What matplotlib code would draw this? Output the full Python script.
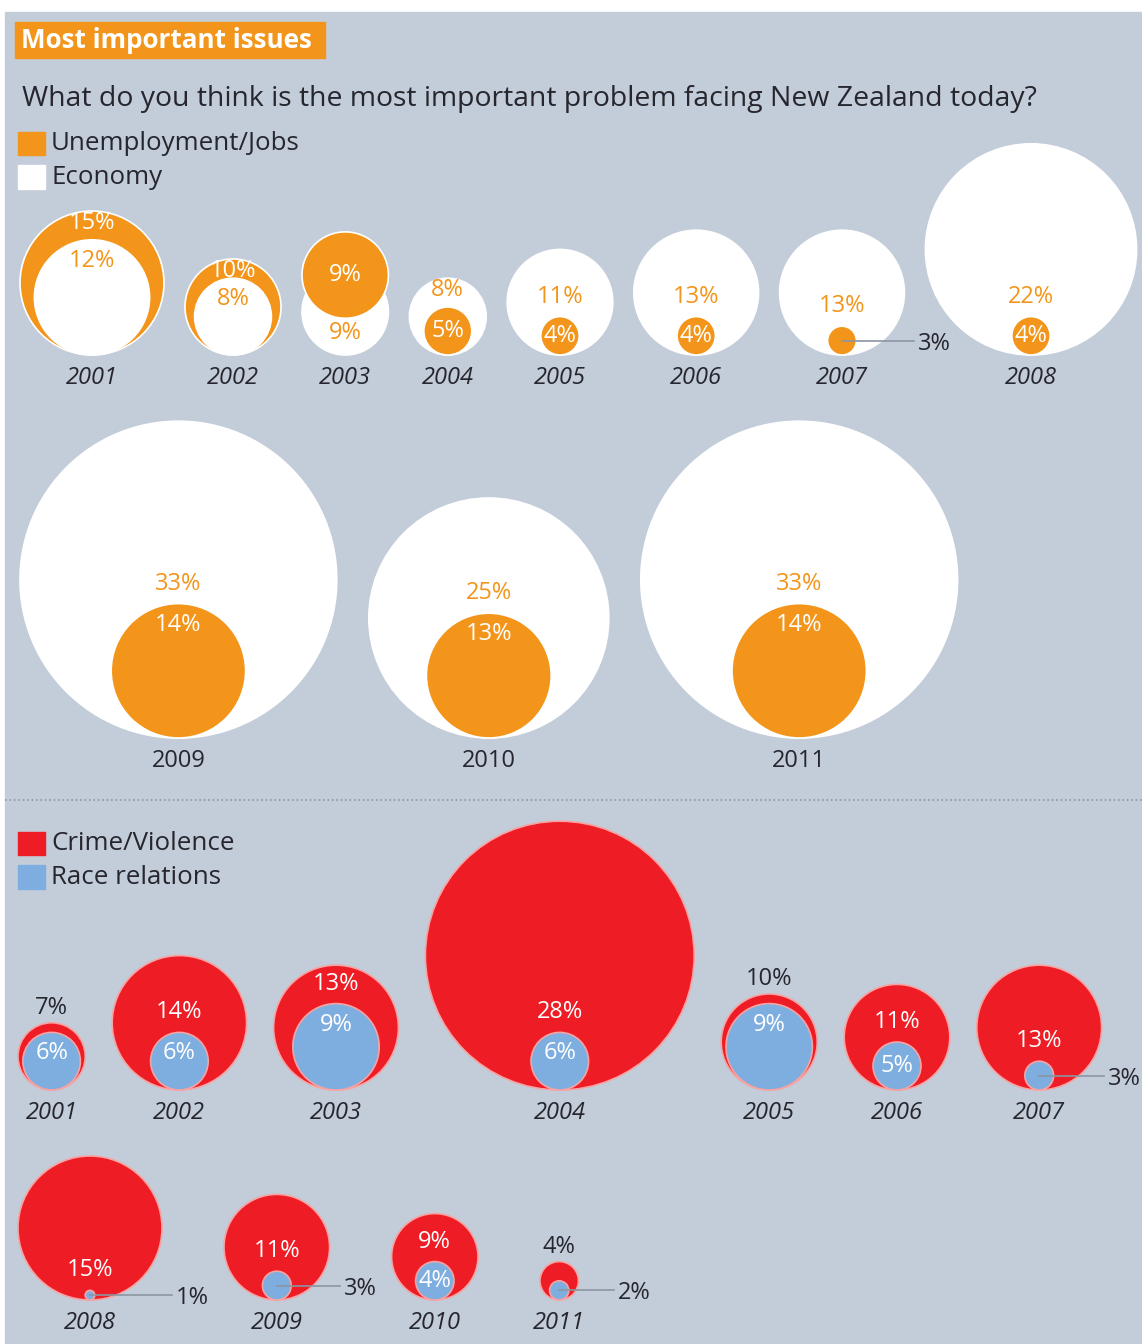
import matplotlib.pyplot as plt
from matplotlib.patches import Circle, Rectangle

plt.rcParams["font.family"] = ["Open Sans", "DejaVu Sans"]

# ----------------------------------
# DATA (percent of respondents)
# ----------------------------------
YEARS = [2001, 2002, 2003, 2004, 2005, 2006, 2007, 2008, 2009, 2010, 2011]
JOBS = [15, 10, 9, 5, 4, 4, 3, 4, 14, 13, 14]
ECONOMY = [12, 8, 9, 8, 11, 13, 13, 22, 33, 25, 33]
CRIME = [7, 14, 13, 28, 10, 11, 13, 15, 11, 9, 4]
RACE = [6, 6, 9, 6, 9, 5, 3, 1, 3, 4, 2]

# ----------------------------------
# STYLE / LAYOUT
# ----------------------------------
W, H = 1142, 1344
SCALE = 4.8          # pixels of radius per percentage point
BG = "#c3ccd9"
ORANGE = "#f3951a"
RED = "#ee1c24"
BLUE = "#7eaedf"
DARK = "#26262e"
LINE = "#8c95a2"
PCT_SIZE = 17
YEAR_SIZE = 17

fig = plt.figure(figsize=(W / 100, H / 100), dpi=100)
ax = fig.add_axes([0, 0, 1, 1])
ax.set_xlim(0, W)
ax.set_ylim(H, 0)
ax.axis("off")
fig.patch.set_facecolor("white")
ax.add_patch(Rectangle((5, 12), W, H, color=BG, zorder=0))


def pct(v):
    return f"{v}%"


def draw_pair(cx, base, a, b, col_a, col_b, txt_a, txt_b, edge):
    """Two nested circles standing on the same baseline.
    a is drawn on top when both values are equal."""
    if a > b:
        outer = (a, col_a, txt_a)
        inner = (b, col_b, txt_b)
    else:
        outer = (b, col_b, txt_b)
        inner = (a, col_a, txt_a)
    ro = outer[0] * SCALE
    ri = inner[0] * SCALE
    oy = base - ro
    ax.add_patch(Circle((cx, oy), ro, facecolor=outer[1], edgecolor=edge,
                        linewidth=1.2, zorder=2))
    if a == b:
        # equal values: the top series sits above, overlapping
        iy = oy - 0.85 * ro
        ax.add_patch(Circle((cx, iy), ri, facecolor=inner[1], edgecolor=edge,
                            linewidth=1.2, zorder=3))
        ax.text(cx, iy, pct(inner[0]), color=inner[2], fontsize=PCT_SIZE,
                ha="center", va="center", zorder=5)
        ax.text(cx, base - 22, pct(outer[0]), color=outer[2],
                fontsize=PCT_SIZE, ha="center", va="center", zorder=5)
        return

    iy = base - ri
    ax.add_patch(Circle((cx, iy), ri, facecolor=inner[1], edgecolor=edge,
                        linewidth=1.2, zorder=3))
    inner_top = base - 2 * ri

    # inner label
    if ri >= 25:
        ax.text(cx, inner_top + 21, pct(inner[0]), color=inner[2],
                fontsize=PCT_SIZE, ha="center", va="center", zorder=5)
    elif ri >= 17:
        ax.text(cx, iy, pct(inner[0]), color=inner[2],
                fontsize=PCT_SIZE, ha="center", va="center", zorder=5)
    else:
        x_end = min(cx + max(ro + 10, 55), W - 38)
        ax.plot([cx, x_end], [iy, iy], color=LINE, lw=1.2, zorder=4)
        ax.text(x_end + 4, iy + 3, pct(inner[0]), color=DARK,
                fontsize=PCT_SIZE, ha="left", va="center", zorder=5)

    # outer label
    if outer[0] - inner[0] <= 1 or ro < 25:
        ax.text(cx, base - 2 * ro - 15, pct(outer[0]), color=DARK,
                fontsize=PCT_SIZE, ha="center", va="center", zorder=5)
    else:
        y = max(inner_top - 20, base - 2 * ro + 12)
        ax.text(cx, y, pct(outer[0]), color=outer[2],
                fontsize=PCT_SIZE, ha="center", va="center", zorder=5)


def draw_row(idx, series_a, series_b, base, x0, gap, colors, italic=True,
             edge="white"):
    x = x0
    for i in idx:
        r = max(series_a[i], series_b[i]) * SCALE
        cx = x + r
        draw_pair(cx, base, series_a[i], series_b[i], *colors, edge)
        ax.text(cx, base + 23, str(YEARS[i]), color=DARK, fontsize=YEAR_SIZE,
                style="italic" if italic else "normal",
                ha="center", va="center", zorder=5)
        x += 2 * r + gap


# ----------------------------------
# HEADER
# ----------------------------------
ax.add_patch(Rectangle((15, 22), 310, 36, color=ORANGE, zorder=1))
ax.text(21, 40, "Most important issues", color="white", fontsize=18.7,
        fontweight="bold", ha="left", va="center", zorder=2)
ax.text(22, 99, "What do you think is the most important problem facing New Zealand today?",
        color=DARK, fontsize=20.4, ha="left", va="center")

# legend (upper)
ax.add_patch(Rectangle((18, 132), 27, 23, color=ORANGE))
ax.text(51, 143, "Unemployment/Jobs", color=DARK, fontsize=18.6,
        ha="left", va="center")
ax.add_patch(Rectangle((18, 165), 27, 24, color="white"))
ax.text(51, 177, "Economy", color=DARK, fontsize=18.6, ha="left", va="center")

# ----------------------------------
# UPPER BUBBLES: jobs vs economy
# ----------------------------------
upper_colors = (ORANGE, "white", "white", ORANGE)
draw_row(range(0, 8), JOBS, ECONOMY, 355, 20, 21, upper_colors)
draw_row(range(8, 11), JOBS, ECONOMY, 738, 20, 32, upper_colors, italic=False)

# separator
ax.plot([5, W], [800, 800], color=LINE, lw=1.2, linestyle=":")

# legend (lower)
ax.add_patch(Rectangle((18, 832), 27, 23, color=RED))
ax.text(51, 843, "Crime/Violence", color=DARK, fontsize=18.6,
        ha="left", va="center")
ax.add_patch(Rectangle((18, 865), 27, 24, color=BLUE))
ax.text(51, 877, "Race relations", color=DARK, fontsize=18.6,
        ha="left", va="center")

# ----------------------------------
# LOWER BUBBLES: crime vs race relations
# ----------------------------------
lower_colors = (RED, BLUE, "white", "white")
draw_row(range(0, 7), CRIME, RACE, 1090, 18, 27, lower_colors, edge="#f7a3a3")
draw_row(range(7, 11), CRIME, RACE, 1300, 18, 62, lower_colors, edge="#f7a3a3")

plt.savefig("out.png", dpi=100, facecolor=fig.get_facecolor())
